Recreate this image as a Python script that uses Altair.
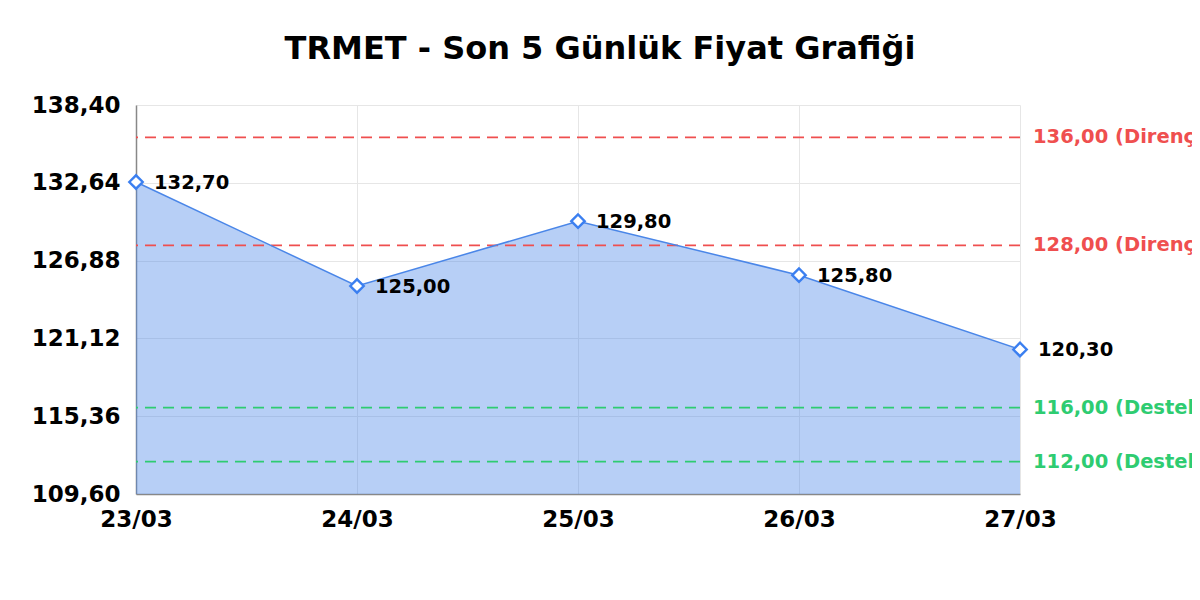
import altair as alt
import pandas as pd

dates = ["23/03", "24/03", "25/03", "26/03", "27/03"]
prices = [132.70, 125.00, 129.80, 125.80, 120.30]
level_values = [136.00, 128.00, 116.00, 112.00]
level_kinds = ["Direnç", "Direnç", "Destek", "Destek"]
y_ticks = [109.60, 115.36, 121.12, 126.88, 132.64, 138.40]

def tr(v):
    return f"{v:.2f}".replace(".", ",")

df = pd.DataFrame({"date": dates, "price": prices, "label": [tr(v) for v in prices]})
lv = pd.DataFrame({
    "level": level_values,
    "kind": level_kinds,
    "label": [f"{tr(v)} ({k})" for v, k in zip(level_values, level_kinds)],
    "date": [dates[-1]] * len(level_values),
})

ymin, ymax = y_ticks[0], y_ticks[-1]
BLUE = "#4a86e8"
kind_color = alt.Scale(domain=["Direnç", "Destek"], range=["#ef4f4f", "#2ecc71"])

x = alt.X("date:N", sort=dates, scale=alt.Scale(type="point", padding=0),
          axis=alt.Axis(title=None, labelAngle=0, ticks=False, grid=True,
                        gridColor="#e6e6e6", domainColor="#888888", domainWidth=1.5,
                        labelFontSize=23, labelFontWeight="bold", labelColor="#000000",
                        labelPadding=14))
y = alt.Y("price:Q", scale=alt.Scale(domain=[ymin, ymax], zero=False, nice=False),
          axis=alt.Axis(title=None, values=y_ticks, ticks=False, grid=True,
                        gridColor="#e6e6e6", domainColor="#888888", domainWidth=1.5,
                        labelFontSize=23, labelFontWeight="bold", labelColor="#000000",
                        labelPadding=16,
                        labelExpr="replace(format(datum.value, '.2f'), '.', ',')"))

base = alt.Chart(df)
area = base.mark_area(color=BLUE, opacity=0.4).encode(x=x, y=y, y2=alt.datum(ymin))
line = base.mark_line(color=BLUE, strokeWidth=1.5).encode(x=x, y=y)
pts = base.mark_point(shape="diamond", size=180, filled=False, fill="white",
                      stroke="#3b7ff0", strokeWidth=2.4, opacity=1).encode(x=x, y=y)
vals = base.mark_text(align="left", baseline="middle", dx=18, dy=1, fontSize=19.5,
                      fontWeight="bold", color="#000000").encode(x=x, y=y, text="label:N")

rules = alt.Chart(lv).mark_rule(strokeDash=[11, 7], strokeWidth=1.8).encode(
    y=alt.Y("level:Q"),
    color=alt.Color("kind:N", scale=kind_color, legend=None),
)
rule_text = alt.Chart(lv).mark_text(align="left", baseline="middle", dx=13, fontSize=19.5,
                                    fontWeight="bold").encode(
    x=alt.X("date:N", sort=dates),
    y=alt.Y("level:Q"),
    text="label:N",
    color=alt.Color("kind:N", scale=kind_color, legend=None),
)

chart = alt.layer(area, rules, line, pts, vals, rule_text).properties(
    width=884, height=389,
    title=alt.TitleParams("TRMET - Son 5 Günlük Fiyat Grafiği", fontSize=32,
                          fontWeight="bold", color="#000000", anchor="middle",
                          dx=22, offset=28),
    autosize=alt.AutoSizeParams(type="none"),
    padding={"left": 128, "top": 97, "right": 172, "bottom": 80},
).configure(font="DejaVu Sans").configure_view(stroke=None)

chart.save("out.html", embed_options={"renderer": "svg", "actions": False})
